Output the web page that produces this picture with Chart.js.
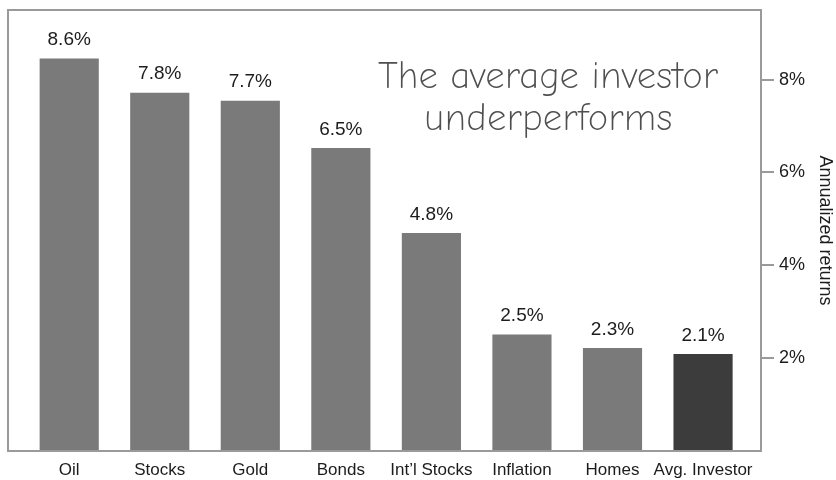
<!DOCTYPE html>
<html>
<head>
<meta charset="utf-8">
<script src="https://cdn.jsdelivr.net/npm/chart.js@4/dist/chart.umd.min.js"></script>
<style>
  html, body { margin: 0; padding: 0; background: #ffffff; }
  #wrap { width: 836px; height: 480px; position: relative; }
</style>
</head>
<body>
<div id="wrap"><canvas id="c" width="836" height="480"></canvas></div>
<script>
// ---- data ----
const categories = ["Oil", "Stocks", "Gold", "Bonds", "Int\u2019l Stocks", "Inflation", "Homes", "Avg. Investor"];
const barValues = [8.45, 7.71, 7.54, 6.52, 4.69, 2.50, 2.21, 2.08];
const valueLabels = ["8.6%", "7.8%", "7.7%", "6.5%", "4.8%", "2.5%", "2.3%", "2.1%"];
const yTickValues = [2, 4, 6, 8];
const annotationLines = ["The average investor", "underperforms"];
const axisTitle = "Annualized returns";

// ---- styling ----
const barColors = categories.map((c, i) => i === categories.length - 1 ? "#3c3c3c" : "#7a7a7a");
const frameColor = "#9a9a9a";
const textColor = "#1c1c1c";

const framePlugin = {
  id: "frame",
  afterDatasetsDraw(chart) {
    const { ctx, chartArea: a } = chart;
    ctx.save();
    ctx.strokeStyle = frameColor;
    ctx.lineWidth = 2;
    ctx.strokeRect(a.left, a.top, a.right - a.left, a.bottom - a.top);
    ctx.restore();
  }
};

const valueLabelPlugin = {
  id: "valueLabels",
  afterDatasetsDraw(chart) {
    const { ctx } = chart;
    const meta = chart.getDatasetMeta(0);
    ctx.save();
    ctx.font = "19px 'Liberation Sans', Arial, sans-serif";
    ctx.fillStyle = textColor;
    ctx.textAlign = "center";
    ctx.textBaseline = "middle";
    meta.data.forEach((bar, i) => {
      ctx.fillText(valueLabels[i], bar.x, bar.y - 19);
    });
    ctx.restore();
  }
};

const annotationPlugin = {
  id: "note",
  afterDatasetsDraw(chart) {
    const { ctx, scales } = chart;
    const x = scales.x.getPixelForValue(5.29);
    const y1 = scales.y.getPixelForValue(7.82);
    const y2 = scales.y.getPixelForValue(6.92);
    ctx.save();
    ctx.font = "300 32px 'Comic Neue', 'Lato', 'DejaVu Sans', sans-serif";
    ctx.fillStyle = "#4f4f4f";
    ctx.textAlign = "center";
    ctx.textBaseline = "alphabetic";
    const target = 340;
    const w = ctx.measureText(annotationLines[0]).width;
    const size = Math.round(32 * target / w);
    ctx.font = "300 " + size + "px 'Comic Neue', 'Lato', 'DejaVu Sans', sans-serif";
    ctx.fillText(annotationLines[0], x, y1);
    ctx.fillText(annotationLines[1], x, y2);
    ctx.restore();
  }
};

new Chart(document.getElementById("c"), {
  type: "bar",
  data: {
    datasets: [{
      data: barValues.map((v, i) => ({ x: i, y: v })),
      backgroundColor: barColors,
      borderWidth: 0,
      barThickness: 58.5
    }]
  },
  options: {
    responsive: false,
    animation: false,
    events: [],
    layout: { padding: { left: 8, top: 10, right: 0, bottom: 0 } },
    plugins: { legend: { display: false }, tooltip: { enabled: false } },
    scales: {
      x: {
        type: "linear",
        min: -0.676,
        max: 7.64,
        offset: false,
        grid: { display: false, drawTicks: false },
        border: { display: false },
        afterBuildTicks(scale) { scale.ticks = categories.map((c, i) => ({ value: i })); },
        afterFit(scale) { scale.height = 29; scale.paddingLeft = 0; scale.paddingRight = 0; },
        ticks: {
          autoSkip: false,
          maxRotation: 0,
          padding: 9,
          color: textColor,
          font: { family: "'Liberation Sans', Arial, sans-serif", size: 17 },
          callback: (v) => categories[v] ?? ""
        }
      },
      y: {
        position: "right",
        min: 0,
        max: 9.5,
        afterBuildTicks(scale) { scale.ticks = yTickValues.map(v => ({ value: v })); },
        afterFit(scale) { scale.width = 75; scale.paddingTop = 0; scale.paddingBottom = 0; },
        grid: { drawOnChartArea: false, drawTicks: true, tickLength: 13, color: frameColor, lineWidth: 2 },
        border: { display: true, color: frameColor, width: 2 },
        ticks: {
          padding: 5,
          color: textColor,
          font: { family: "'Liberation Sans', Arial, sans-serif", size: 18 },
          callback: (v) => v + "%"
        },
        title: {
          display: true,
          text: axisTitle,
          color: textColor,
          padding: { top: 0, bottom: 0 },
          font: { family: "'Liberation Sans', Arial, sans-serif", size: 18 }
        }
      }
    }
  },
  plugins: [framePlugin, valueLabelPlugin, annotationPlugin]
});
</script>
</body>
</html>
